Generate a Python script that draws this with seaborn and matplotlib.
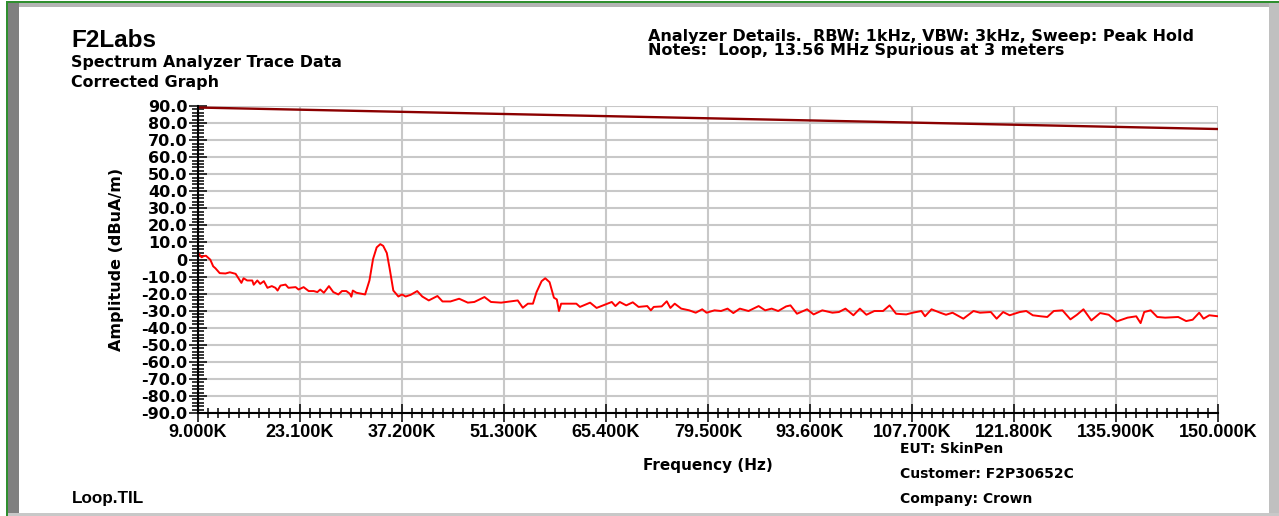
import matplotlib
matplotlib.use("Agg")
import matplotlib.pyplot as plt
import seaborn as sns
import pandas as pd
import numpy as np
from matplotlib.patches import Rectangle
from matplotlib.ticker import MultipleLocator

# ---------------- data ----------------
freq_khz = [9.0, 9.5, 9.8, 10.1, 10.7, 11.1, 11.4, 12.0, 12.8, 13.4, 14.2, 14.6, 15.0, 15.3,
            15.8, 16.5, 16.7, 17.2, 17.6, 18.1, 18.6, 19.2, 19.7, 20.0, 20.4, 21.1, 21.5,
            22.5, 22.9, 23.6, 24.3, 25.0, 25.5, 25.9, 26.4, 27.1, 27.7, 28.4, 28.9, 29.5,
            30.0, 30.2, 30.4, 30.9, 32.1, 32.7, 33.2, 33.7, 34.2, 34.6, 35.1, 35.5, 36.0,
            36.7, 37.2, 37.7, 38.4, 39.3, 40.0, 40.9, 42.1, 42.8, 43.9, 45.1, 46.3, 47.2,
            48.6, 49.5, 50.9, 53.2, 53.9, 54.6, 55.3, 55.8, 56.5, 57.0, 57.6, 58.2, 58.6,
            58.9, 59.2, 60.1, 61.3, 61.8, 63.2, 64.1, 65.0, 66.2, 66.7, 67.3, 68.2, 69.1,
            69.9, 71.1, 71.6, 72.0, 73.1, 73.8, 74.3, 74.9, 75.8, 76.9, 77.8, 78.7, 79.3,
            80.4, 81.3, 82.2, 83.0, 83.9, 85.1, 86.5, 87.4, 88.3, 89.2, 90.3, 90.9, 91.8,
            93.2, 94.1, 95.3, 96.7, 97.6, 98.5, 99.6, 100.5, 101.4, 102.5, 103.7, 104.6,
            105.5, 106.9, 107.8, 109.0, 109.5, 110.4, 111.6, 112.4, 113.3, 114.8, 116.2,
            117.1, 118.6, 119.4, 120.3, 121.2, 122.6, 123.5, 124.4, 125.5, 126.4, 127.3,
            128.5, 129.6, 130.5, 131.4, 132.5, 133.7, 134.9, 136.0, 137.5, 138.7, 139.3,
            139.8, 140.7, 141.6, 142.7, 144.5, 145.6, 146.5, 147.4, 148.0, 148.8, 150.0]
amp_dbua = [3.8, 1.3, 2.0, 2.2, -0.1, -4.0, -5.1, -8.0, -8.2, -7.5, -8.4, -11.0, -13.7, -11.0,
            -12.3, -12.3, -14.8, -12.3, -14.3, -12.7, -16.6, -15.6, -16.6, -18.2, -15.3, -14.7, -16.6,
            -16.2, -17.6, -16.2, -18.5, -18.5, -19.1, -17.6, -19.5, -15.6, -19.1, -20.5, -18.5, -18.5,
            -20.1, -21.8, -18.2, -19.5, -20.5, -12.3, 0.3, 7.1, 9.0, 8.0, 3.8, -5.5, -18.2,
            -21.7, -20.5, -21.7, -20.7, -18.5, -21.7, -24.0, -21.4, -24.6, -24.6, -23.0, -25.3, -24.9,
            -22.0, -24.9, -25.3, -24.0, -28.3, -25.9, -25.9, -19.1, -12.7, -11.0, -13.3, -22.4, -23.4,
            -30.2, -25.9, -25.9, -25.9, -27.8, -25.3, -28.4, -26.9, -24.9, -27.3, -24.9, -26.9, -25.1,
            -27.8, -27.3, -29.8, -27.8, -27.5, -24.5, -28.4, -25.9, -28.8, -29.8, -31.2, -29.2, -31.2,
            -29.8, -30.2, -28.8, -31.4, -28.8, -30.2, -27.3, -29.8, -28.8, -30.2, -27.5, -26.9, -31.8,
            -29.2, -32.2, -29.8, -31.2, -30.8, -28.8, -32.7, -28.8, -32.4, -30.2, -30.2, -26.9,
            -31.8, -32.2, -31.2, -30.2, -33.3, -29.2, -31.2, -32.4, -31.2, -34.7, -30.2,
            -31.2, -30.8, -34.7, -30.8, -32.7, -30.8, -30.2, -32.7, -33.3, -33.7, -30.2,
            -29.8, -35.1, -32.4, -29.2, -35.7, -31.4, -32.4, -36.3, -34.1, -33.3, -37.3,
            -30.8, -29.8, -33.7, -34.1, -33.7, -36.1, -35.3, -31.2, -34.7, -32.7, -33.3]
limit_freq_khz = [9.0, 150.0]
limit_dbua = [89.1, 76.5]

x_ticks_khz = [9.0, 23.1, 37.2, 51.3, 65.4, 79.5, 93.6, 107.7, 121.8, 135.9, 150.0]
x_tick_labels = ["9.000K", "23.100K", "37.200K", "51.300K", "65.400K", "79.500K",
                 "93.600K", "107.700K", "121.800K", "135.900K", "150.000K"]
y_ticks = [90, 80, 70, 60, 50, 40, 30, 20, 10, 0, -10, -20, -30, -40, -50, -60, -70, -80, -90]
y_tick_labels = ["90.0", "80.0", "70.0", "60.0", "50.0", "40.0", "30.0", "20.0", "10.0", "0",
                 "-10.0", "-20.0", "-30.0", "-40.0", "-50.0", "-60.0", "-70.0", "-80.0", "-90.0"]

title_main = "F2Labs"
title_sub1 = "Spectrum Analyzer Trace Data"
title_sub2 = "Corrected Graph"
header1 = "Analyzer Details.  RBW: 1kHz, VBW: 3kHz, Sweep: Peak Hold"
header2 = "Notes:  Loop, 13.56 MHz Spurious at 3 meters"
info_lines = ["EUT: SkinPen", "Customer: F2P30652C", "Company: Crown"]
file_name = "Loop.TIL"

# ---------------- figure ----------------
sns.set_style("white")
plt.rcParams['font.family'] = ['DejaVu Sans']
plt.rcParams.update({
    "text.color": "black", "axes.labelcolor": "black",
    "xtick.color": "black", "ytick.color": "black",
    "xtick.bottom": True, "ytick.left": True,
    "xtick.minor.visible": True, "ytick.minor.visible": True,
})

W, H = 1279, 516
fig = plt.figure(figsize=(W / 100, H / 100), dpi=100)
fig.patch.set_facecolor("white")


def px_rect(x0, y0, x1, y1, color):
    fig.add_artist(Rectangle((x0 / W, 1 - y1 / H), (x1 - x0) / W, (y1 - y0) / H,
                             transform=fig.transFigure, facecolor=color,
                             edgecolor="none", zorder=0))


# frame (bevelled border)
px_rect(8, 3, 1279, 7, "#b4b4b4")
px_rect(8, 3, 19, 513, "#808080")
px_rect(1269, 3, 1279, 516, "#c0c0c0")
px_rect(8, 513, 1279, 516, "#c8c8c8")
px_rect(6, 1, 1279, 3, "#2f8f2f")
px_rect(6, 1, 8, 516, "#2f8f2f")

ax = fig.add_axes([198 / W, 1 - 413 / H, 1020 / W, 307 / H])

trace = pd.DataFrame({"freq": np.array(freq_khz) * 1000.0, "amp": amp_dbua})
limit = pd.DataFrame({"freq": np.array(limit_freq_khz) * 1000.0, "amp": limit_dbua})

sns.lineplot(data=limit, x="freq", y="amp", ax=ax, color="#8b0000", lw=1.7,
             estimator=None, sort=False)
sns.lineplot(data=trace, x="freq", y="amp", ax=ax, color="#ff0000", lw=1.4,
             estimator=None, sort=False)

ax.set_xlim(9000, 150000)
ax.set_ylim(-90, 90)
ax.set_xticks([v * 1000 for v in x_ticks_khz])
ax.set_xticklabels(x_tick_labels)
ax.set_yticks(y_ticks)
ax.set_yticklabels(y_tick_labels)
ax.xaxis.set_minor_locator(MultipleLocator(1410, offset=9000))
ax.yaxis.set_minor_locator(MultipleLocator(2))

ax.grid(True, which="major", color="#c8c8c8", lw=1.5)
ax.grid(False, which="minor")
ax.set_axisbelow(True)
for s in ["top", "right"]:
    ax.spines[s].set_visible(False)
for s in ["left", "bottom"]:
    ax.spines[s].set_color("black")
    ax.spines[s].set_linewidth(1.5)
    ax.spines[s].set_zorder(3)

ax.tick_params(axis="x", which="major", direction="inout", length=13, width=1.1,
               pad=1.5, colors="black", bottom=True, top=False)
ax.tick_params(axis="x", which="minor", direction="inout", length=6.5, width=1.1,
               colors="black", bottom=True, top=False)
ax.tick_params(axis="y", which="major", direction="inout", length=13, width=1.1,
               pad=1, colors="black", left=True, right=False)
ax.tick_params(axis="y", which="minor", direction="inout", length=8.6, width=1.1,
               colors="black", left=True, right=False)

for lab in ax.get_xticklabels():
    lab.set_fontfamily(["Liberation Sans", "DejaVu Sans"])
    lab.set_fontweight("bold")
    lab.set_fontsize(13)
for lab in ax.get_yticklabels():
    lab.set_fontweight("bold")
    lab.set_fontsize(11.5)

ax.set_xlabel("Frequency (Hz)", fontsize=11, fontweight="bold", color="black")
ax.xaxis.set_label_coords((708 - 198) / 1020, -(470 - 413) / 307)
ax.xaxis.label.set_va("baseline")
ax.set_ylabel("Amplitude (dBuA/m)", fontsize=11.5, fontweight="bold", color="black")
ax.yaxis.set_label_coords((117 - 198) / 1020, 0.5)
ax.yaxis.label.set_va("center")

renderer = fig.canvas.get_renderer()


def fit_text(s, x, yb, target_w, family, size):
    t = fig.text(x / W, 1 - yb / H, s, fontsize=size, fontweight="bold",
                 family=family, ha="left", va="baseline", color="black")
    w = t.get_window_extent(renderer).width
    t.set_fontsize(size * target_w / w)
    return t


fit_text(title_main, 71, 47, 85, ["Liberation Sans", "DejaVu Sans"], 16)
t1 = fit_text(title_sub1, 71, 67, 271, ["DejaVu Sans"], 11)
fig.text(71 / W, 1 - 87 / H, title_sub2, fontsize=t1.get_fontsize(), fontweight="bold",
         ha="left", va="baseline", color="black")
h1 = fit_text(header1, 648, 41, 543, ["DejaVu Sans"], 11)
fig.text(648 / W, 1 - 55 / H, header2, fontsize=h1.get_fontsize(), fontweight="bold",
         ha="left", va="baseline", color="black")

for txt, yb in zip(info_lines, [453, 478, 503]):
    fig.text(900 / W, 1 - yb / H, txt, fontsize=10, fontweight="bold",
             ha="left", va="baseline", color="black")
fig.text(72 / W, 1 - 503 / H, file_name, fontsize=12.3, fontweight="bold",
         family=["Liberation Sans", "DejaVu Sans"], ha="left", va="baseline", color="black")

fig.savefig("out.png", dpi=100)
